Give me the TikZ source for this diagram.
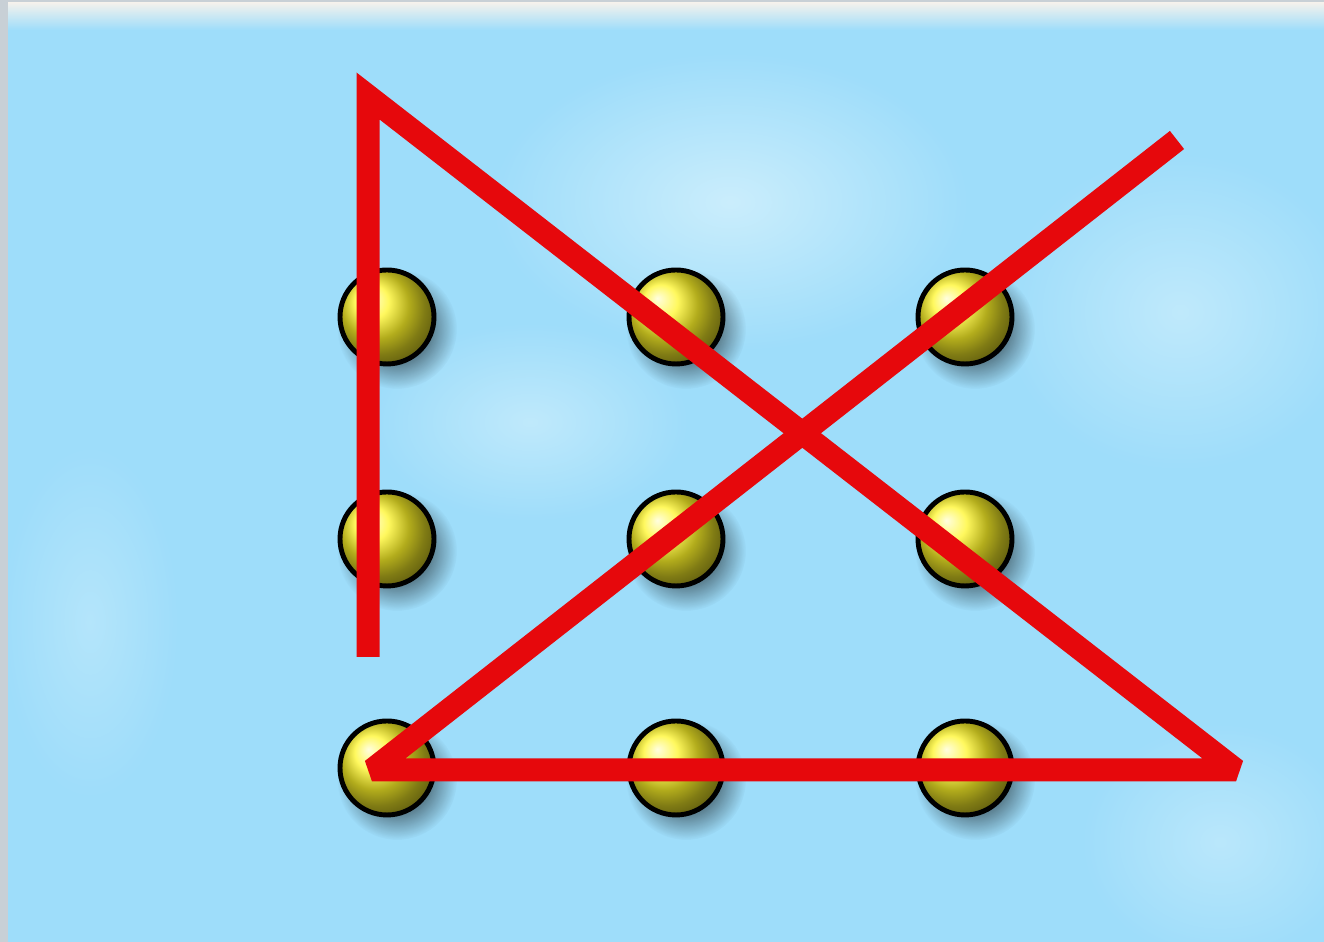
\documentclass[tikz,border=0pt]{standalone}
\usepackage{tikz}
\usetikzlibrary{fadings,shadings}
\definecolor{sky}{RGB}{158,221,250}
\definecolor{skylight}{RGB}{214,242,253}
\definecolor{framegray}{RGB}{200,208,214}
\definecolor{frametop}{RGB}{246,242,236}
\definecolor{penred}{RGB}{230,8,12}
\definecolor{dotyellow}{RGB}{255,246,40}
\tikzfading[name=soft, inner color=transparent!0, outer color=transparent!100]

\begin{document}
\begin{tikzpicture}[
    dot/.style={circle, minimum size=0.94cm, inner sep=0pt, draw=black, line width=1.4pt, ball color=dotyellow},
    stroke/.style={penred, line width=0.23cm, line join=miter, miter limit=2.5}
  ]
    \useasboundingbox (0,0) rectangle (13.24,9.42);
    % sky
    \fill[sky] (0,0) rectangle (13.24,9.42);
    \fill[skylight, path fading=soft, opacity=0.8] (7.3,7.4) ellipse (2.4 and 1.5);
    \fill[skylight, path fading=soft, opacity=0.6] (5.3,5.2) ellipse (1.6 and 1.0);
    \fill[skylight, path fading=soft, opacity=0.6] (11.8,6.3) ellipse (1.8 and 1.6);
    \fill[skylight, path fading=soft, opacity=0.5] (12.2,1.0) ellipse (1.4 and 1.2);
    \fill[skylight, path fading=soft, opacity=0.4] (0.9,3.2) ellipse (0.9 and 1.8);
    % frame
    \fill[framegray] (0,0) rectangle (0.08,9.42);
    \shade[top color=frametop, bottom color=sky] (0.08,9.12) rectangle (13.24,9.40);
    \fill[framegray] (0.08,9.40) rectangle (13.24,9.42);

    % nine dots
    \foreach \c/\x in {1/3.87,2/6.76,3/9.65}
      \foreach \r/\y in {1/6.25,2/4.03,3/1.74} {
        \fill[black, path fading=soft, opacity=0.95] (\x+0.1,\y-0.12) circle (0.6);
        \node[dot] (d\r\c) at (\x,\y) {};
      }

    % four strokes
    \coordinate (start) at (3.68,2.85);
    \coordinate (top) at (3.68,8.46);
    \coordinate (far) at (12.36,1.72);
    \coordinate (back) at (3.72,1.72);
    \coordinate (end) at (11.77,8.02);
    \draw[stroke] (start) -- (top) -- (far) -- (back) -- (end);
\end{tikzpicture}
\end{document}
